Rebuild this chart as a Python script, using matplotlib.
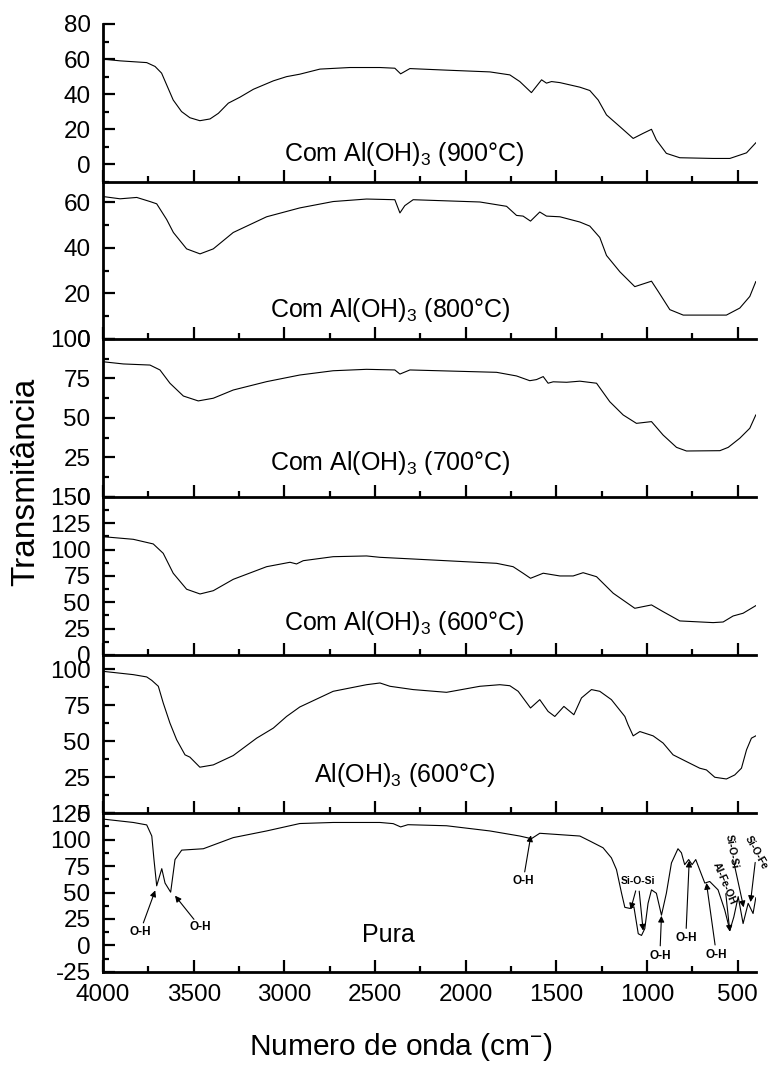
import numpy as np
import matplotlib
matplotlib.use("Agg")
import matplotlib.pyplot as plt
from matplotlib.ticker import MultipleLocator

plt.rcParams['font.family'] = ['Liberation Sans', 'DejaVu Sans']
plt.rcParams['mathtext.fontset'] = 'custom'
plt.rcParams['mathtext.rm'] = 'Liberation Sans'
plt.rcParams['mathtext.it'] = 'Liberation Sans:italic'
plt.rcParams['axes.unicode_minus'] = False

# spectra (wavenumber, transmittance)
p900_wn = [4000, 3906, 3759, 3713, 3677, 3649, 3613, 3567, 3521, 3466, 3410, 3364, 3309, 3245, 3171,
           3061, 2988, 2915, 2804, 2639, 2473, 2391, 2359, 2308, 2106, 1867, 1757, 1702, 1638, 1582,
           1555, 1527, 1481, 1371, 1316, 1270, 1224, 1150, 1077, 1022, 976, 949, 894, 820, 636,
           544, 452, 401]
p900_t = [60, 59, 58, 55.8, 52, 45.3, 36.7, 30.1, 26.6, 24.9, 25.9, 29.1, 34.9, 38.3, 42.8,
          47.6, 50, 51.4, 54.3, 55.2, 55.2, 54.8, 51.6, 54.6, 53.7, 52.7, 51, 47.2, 40.9, 48.2,
          46.3, 47.2, 46.6, 44, 42.1, 36.7, 28.2, 21.5, 14.8, 17.7, 20, 13.9, 6.3, 3.8, 3.4,
          3.4, 6.6, 12.3]

p800_wn = [4000, 3906, 3814, 3741, 3704, 3649, 3612, 3539, 3465, 3392, 3282, 3098, 2915, 2731, 2547,
           2391, 2363, 2336, 2290, 1922, 1775, 1720, 1684, 1643, 1592, 1555, 1481, 1371, 1316, 1261,
           1224, 1150, 1068, 976, 939, 875, 801, 636, 563, 489, 434, 401]
p800_t = [62.6, 61.6, 62.2, 60.4, 59.4, 52.5, 46.8, 39.6, 37.4, 39.6, 46.8, 53.7, 57.6, 60.4, 61.5,
          61.2, 55.4, 58.6, 61.2, 60.2, 58.3, 54.3, 54, 51.8, 55.8, 54, 53.7, 51.4, 49.6, 44.6,
          36.7, 29.5, 23, 25.4, 20.9, 12.9, 10.5, 10.5, 10.5, 13.6, 18.7, 25.2]

p700_wn = [4000, 3888, 3741, 3686, 3631, 3557, 3475, 3392, 3282, 3098, 2915, 2731, 2547, 2391, 2363,
           2308, 1830, 1720, 1647, 1610, 1573, 1546, 1518, 1444, 1371, 1279, 1206, 1132, 1059, 976,
           912, 838, 783, 599, 553, 489, 434, 401]
p700_t = [85.6, 84.2, 83.5, 80.4, 72, 63.9, 60.8, 62.5, 67.7, 73, 77.2, 79.9, 80.8, 80.4, 77.8,
          80.4, 78.9, 76.6, 73.6, 74.3, 76.2, 72, 72.9, 72.6, 73.3, 72, 60.3, 51.9, 46.6, 47.7,
          39.2, 31.4, 29.1, 29.3, 31.4, 37.2, 43.5, 51.9]

p600c_wn = [4000, 3833, 3723, 3668, 3613, 3539, 3465, 3392, 3282, 3098, 2969, 2933, 2896, 2731, 2547,
            2473, 2290, 1830, 1739, 1684, 1643, 1573, 1481, 1408, 1353, 1279, 1187, 1068, 976, 912,
            820, 636, 581, 526, 471, 401]
p600c_t = [112.3, 109.8, 105.4, 96.5, 77.6, 62.4, 57.9, 61, 71.8, 83.8, 88, 86.4, 89.5, 93.3, 94,
           92.7, 91.1, 87, 83.8, 77.6, 72.8, 77.6, 75, 75, 78.1, 74.3, 58.6, 44.3, 47.5, 41.1,
           32.3, 30.7, 31.3, 37, 39.6, 46.8]

aloh_wn = [4000, 3833, 3759, 3731, 3695, 3668, 3631, 3594, 3548, 3521, 3466, 3392, 3282, 3153, 3061,
           2988, 2915, 2731, 2547, 2473, 2418, 2290, 2106, 1922, 1812, 1757, 1711, 1643, 1592, 1546,
           1509, 1459, 1404, 1362, 1307, 1261, 1197, 1123, 1105, 1077, 1040, 967, 912, 857, 783,
           710, 673, 627, 563, 517, 480, 452, 425, 401]
aloh_t = [98.6, 96.3, 94.7, 92.3, 88.2, 76.6, 62.6, 51, 40.5, 38.9, 31.9, 33.5, 40, 52.1, 59.1,
          67.2, 73.8, 84.7, 89.3, 90.5, 88.2, 85.9, 84, 88.2, 89.3, 88.6, 84.7, 73.1, 78.9, 70.7,
          67.2, 74.2, 68.4, 80.1, 85.9, 84.7, 78.9, 67.2, 61.4, 53.7, 56.7, 53.7, 48.7, 40.5, 35.8,
          31.2, 30, 24.9, 23.7, 26.5, 31.2, 44, 52.1, 53.7]

pura_wn = [4000, 3833, 3759, 3731, 3719, 3704, 3676, 3658, 3627, 3603, 3566, 3447, 3282, 3098, 2915,
           2731, 2473, 2400, 2359, 2319, 2106, 1867, 1702, 1638, 1592, 1371, 1316, 1243, 1197, 1169,
           1141, 1123, 1095, 1073, 1049, 1031, 1013, 995, 976, 949, 921, 894, 866, 830, 811,
           793, 771, 752, 732, 700, 682, 655, 609, 572, 544, 522, 498, 471, 443, 416, 401]
pura_t = [119.3, 116.1, 113.8, 103.3, 81.1, 56.3, 72.5, 58.9, 50.3, 81.1, 90, 91.3, 101.8, 108.1, 115.1,
          116.1, 116.1, 115, 111.9, 114, 113, 108.1, 103.3, 100.8, 105.9, 103.3, 98.6, 92.2, 82.7, 71.6,
          49.3, 36, 35, 36.5, 11.1, 9.5, 15.9, 39.8, 52.5, 49.3, 28.6, 49.3, 77.9, 91.3, 87.5,
          76.3, 81.1, 76.3, 81.1, 66.8, 58.9, 60.4, 52.5, 33.4, 14.3, 27, 46.1, 20.7, 39.8, 30.2, 45]

labels = ['Com Al(OH)$_3$ (900°C)', 'Com Al(OH)$_3$ (800°C)', 'Com Al(OH)$_3$ (700°C)',
          'Com Al(OH)$_3$ (600°C)', 'Al(OH)$_3$ (600°C)', 'Pura']

# band assignments on the Pura spectrum: text, text pos, arrow targets, rotation, size
bands = [
    ('O-H', (3796, 12.7), [(3712, 52)], 0, 8.5),
    ('O-H', (3465, 17.5), [(3603, 47)], 0, 8.5),
    ('O-H', (1684, 60.4), [(1641, 104)], 0, 8.5),
    ('Si-O-Si', (1049, 60.4), [(1091, 34), (1022, 14)], 0, 7.5),
    ('O-H', (930, -9.5), [(921, 28)], 0, 8.5),
    ('O-H', (787, 7), [(768, 80)], 0, 8.5),
    ('O-H', (618, -8.6), [(673, 59)], 0, 8.5),
    ('Al-Fe-OH', (572, 58), [(544, 13)], -67, 7.5),
    ('Si-O-Si', (535, 88.7), [(468, 36)], -80, 7.5),
    ('Si-O-Fe', (398, 87.5), [(430, 41)], -61, 7.5),
]

series = [(p900_wn, p900_t), (p800_wn, p800_t), (p700_wn, p700_t),
          (p600c_wn, p600c_t), (aloh_wn, aloh_t), (pura_wn, pura_t)]
ylims = [(-10, 80), (0, 69), (0, 100), (0, 150), (0, 110), (-25, 125)]
ymaj = [20, 20, 25, 25, 25, 25]
ymin = [10, 10, 12.5, 12.5, 12.5, 12.5]
lab_pos = [(0.461, 0.18), (0.44, 0.185), (0.44, 0.215), (0.461, 0.20), (0.462, 0.24), (0.437, 0.23)]

fig = plt.figure(figsize=(7.71, 10.66), dpi=100)
edges = [0.9775, 0.8293, 0.6820, 0.5338, 0.3856, 0.2373, 0.0882]
left, width = 0.1336, 0.8469

axes = []
for i, (wn, t) in enumerate(series):
    ax = fig.add_axes([left, edges[i + 1], width, edges[i] - edges[i + 1]])
    ax.patch.set_alpha(0)
    ax.plot(wn, t, color='black', lw=0.8)
    ax.set_xlim(4000, 400)
    ax.set_ylim(*ylims[i])
    for s in ['top', 'right']:
        ax.spines[s].set_visible(False)
    for s in ['left', 'bottom']:
        ax.spines[s].set_linewidth(2)
    ax.xaxis.set_major_locator(MultipleLocator(500))
    ax.xaxis.set_minor_locator(MultipleLocator(250))
    ax.yaxis.set_major_locator(MultipleLocator(ymaj[i]))
    ax.yaxis.set_minor_locator(MultipleLocator(ymin[i]))
    ax.tick_params(which='major', direction='in', length=8.5, width=1.6, labelsize=17.5, pad=9)
    ax.tick_params(which='minor', direction='in', length=4.5, width=1.6)
    ax.tick_params(axis='x', labelbottom=(i == 5))
    ax.text(lab_pos[i][0], lab_pos[i][1], labels[i], transform=ax.transAxes,
            ha='center', va='center', fontsize=18)
    axes.append(ax)

ax = axes[5]
for txt, pos, targets, rot, fs in bands:
    ax.text(pos[0], pos[1], txt, fontsize=fs, fontweight='bold', ha='center', va='center',
            rotation=rot, rotation_mode='anchor')
    for tgt in targets:
        ax.annotate('', xy=tgt, xytext=pos, textcoords='data',
                    arrowprops=dict(arrowstyle='-|>', color='black', lw=0.8,
                                    mutation_scale=9, shrinkA=7, shrinkB=0))

fig.text(0.034, 0.548, 'Transmitância', rotation=90, ha='center', va='center', fontsize=24)
fig.text(0.52, 0.018, 'Numero de onda (cm$^{-}$)', ha='center', va='center', fontsize=21.5)

fig.savefig('out.png', dpi=100)
